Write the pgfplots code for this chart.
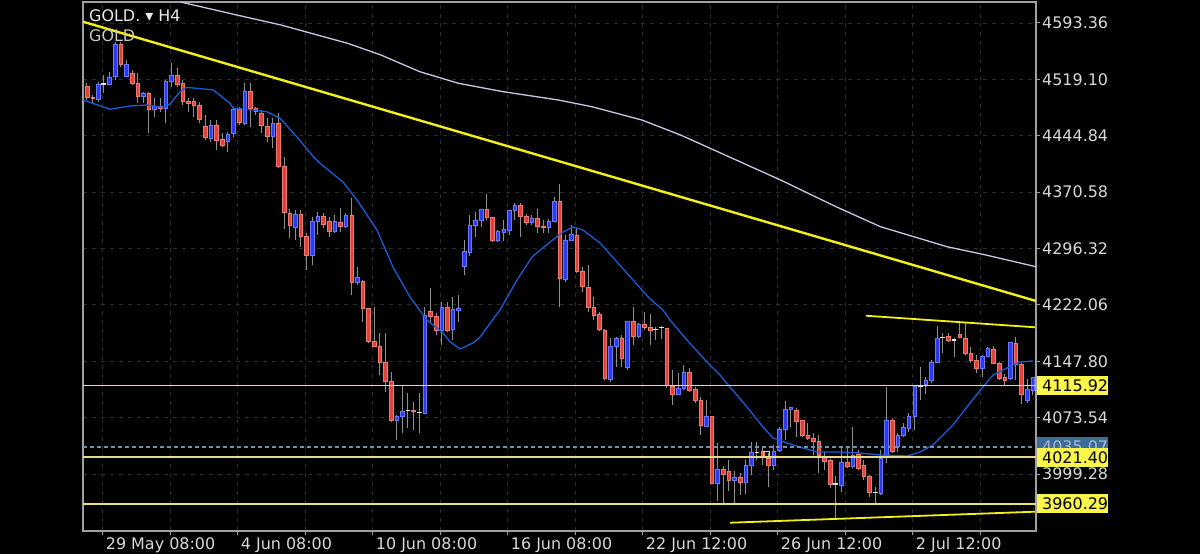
\documentclass[border=0pt]{standalone}
\usepackage{pgfplots}
\pgfplotsset{compat=1.18}
\usepackage{pgfplotstable}
\usepackage{fontspec}
\setmainfont{DejaVu Sans}
\newcommand\lbl{\fontsize{16}{18}\selectfont}

\definecolor{bullblue}{HTML}{2B39F5}
\definecolor{bulledge}{HTML}{6A78FF}
\definecolor{bearred}{HTML}{E0413A}
\definecolor{bearedge}{HTML}{F07A70}
\definecolor{wickgray}{HTML}{8F8F8F}
\definecolor{dojiwhite}{HTML}{E0E0E0}
\definecolor{bluema}{HTML}{1C5BD6}
\definecolor{lavender}{HTML}{C9C6E6}
\definecolor{trendyellow}{HTML}{F2EF1A}
\definecolor{paleyellow}{HTML}{E2DC8C}
\definecolor{lowyellow}{HTML}{E8E272}
\definecolor{boxyellow}{HTML}{F9F54A}
\definecolor{axisgray}{HTML}{A0A0A0}
\definecolor{gridgray}{HTML}{2C2C2C}
\definecolor{labelgray}{HTML}{D9D9D9}
\definecolor{bluebox}{HTML}{3B6D9C}
\definecolor{bluedash}{HTML}{6E8FB0}

\pgfplotsset{
 wick/.style={forget plot, draw=wickgray, line width=1bp, mark=none},
 body0/.style={forget plot, draw=dojiwhite, line width=1.2bp, mark=none},
 body1/.style={forget plot, fill=bullblue, draw=bulledge, line width=0.6bp, mark=none},
 body2/.style={forget plot, fill=bearred, draw=bearedge, line width=0.6bp, mark=none},
}

\pgfplotstableread{
i o h l c
0 4509.4 4514.7 4491.9 4495.5
1 4495.9 4498.5 4488.0 4493.9
2 4492.8 4516.0 4489.7 4513.0
3 4513.0 4524.9 4501.1 4513.2
4 4513.0 4529.2 4511.7 4521.3
5 4522.6 4568.7 4518.3 4565.7
6 4565.7 4568.7 4535.8 4539.3
7 4523.5 4544.6 4521.8 4539.3
8 4527.1 4531.4 4511.7 4513.9
9 4513.9 4527.1 4487.6 4497.2
10 4497.2 4502.8 4487.6 4500.7
11 4500.7 4502.8 4448.1 4479.7
12 4479.7 4494.6 4469.9 4483.1
13 4484.0 4494.6 4476.5 4480.5
14 4481.0 4518.3 4461.2 4516.0
15 4516.0 4540.3 4509.4 4524.9
16 4524.9 4533.7 4509.4 4513.0
17 4513.9 4518.3 4485.3 4489.7
18 4490.6 4494.2 4476.5 4487.6
19 4489.7 4494.6 4469.9 4485.3
20 4485.3 4489.7 4461.2 4466.9
21 4456.7 4472.1 4439.2 4442.8
22 4441.5 4465.6 4437.0 4459.0
23 4459.0 4465.6 4426.1 4439.2
24 4440.2 4448.5 4430.4 4432.6
25 4437.0 4450.2 4423.8 4447.1
26 4448.1 4483.1 4443.6 4480.1
27 4480.1 4483.1 4459.0 4462.0
28 4461.2 4513.9 4459.0 4502.8
29 4502.8 4513.9 4456.7 4481.0
30 4481.0 4483.1 4472.1 4476.5
31 4474.4 4478.7 4448.1 4459.0
32 4457.7 4467.8 4437.0 4443.6
33 4443.6 4467.8 4428.3 4461.2
34 4461.2 4474.4 4402.4 4404.1
35 4404.1 4417.2 4322.0 4344.4
36 4343.1 4348.4 4310.2 4327.3
37 4323.7 4347.0 4307.5 4341.4
38 4341.4 4347.0 4298.7 4311.9
39 4311.9 4316.4 4268.0 4287.8
40 4287.8 4338.2 4274.6 4331.6
41 4331.6 4344.8 4314.1 4339.2
42 4339.2 4342.7 4322.9 4328.6
43 4331.6 4338.2 4311.9 4318.5
44 4318.5 4340.5 4317.0 4331.6
45 4330.3 4349.3 4318.5 4326.0
46 4325.1 4342.7 4322.9 4340.5
47 4340.5 4362.5 4235.1 4251.3
48 4251.3 4272.4 4248.3 4257.9
49 4252.6 4254.9 4199.9 4217.6
50 4217.6 4218.5 4171.5 4173.6
51 4173.6 4219.7 4167.0 4167.9
52 4167.9 4184.6 4129.7 4146.0
53 4146.0 4184.6 4107.7 4120.9
54 4120.9 4134.1 4068.2 4070.5
55 4070.5 4077.1 4044.1 4074.8
56 4075.7 4116.6 4052.9 4081.4
57 4082.7 4105.6 4059.5 4082.9
58 4083.6 4094.6 4057.3 4081.4
59 4080.1 4105.6 4052.9 4080.3
60 4079.3 4218.9 4078.4 4208.8
61 4213.1 4243.9 4199.9 4207.4
62 4207.4 4211.0 4182.4 4189.0
63 4189.0 4226.3 4169.2 4218.9
64 4218.9 4226.3 4186.7 4189.0
65 4189.9 4232.9 4175.8 4216.3
66 4214.4 4235.1 4199.9 4217.6
67 4272.4 4307.5 4261.4 4292.1
68 4291.7 4340.5 4286.5 4327.3
69 4327.3 4344.8 4311.9 4332.9
70 4332.9 4348.5 4324.2 4348.0
71 4348.0 4368.1 4333.9 4337.4
72 4337.4 4338.2 4305.3 4307.5
73 4306.6 4320.7 4305.3 4318.5
74 4318.1 4333.9 4306.6 4321.6
75 4320.7 4347.0 4314.1 4346.1
76 4346.1 4355.9 4333.9 4353.6
77 4353.6 4355.9 4311.9 4339.2
78 4339.2 4341.8 4327.3 4330.3
79 4330.9 4340.5 4327.3 4336.1
80 4336.1 4348.0 4316.4 4326.0
81 4326.0 4333.9 4316.4 4324.2
82 4324.2 4334.8 4316.4 4332.5
83 4332.5 4364.6 4331.6 4358.0
84 4358.0 4381.3 4219.7 4257.1
85 4255.8 4314.1 4252.6 4307.5
86 4307.5 4327.3 4306.6 4315.0
87 4314.1 4322.9 4263.7 4265.8
88 4265.8 4272.4 4239.4 4246.0
89 4245.2 4274.6 4213.1 4218.9
90 4218.9 4232.9 4202.2 4207.8
91 4209.7 4213.1 4188.1 4189.9
92 4189.0 4189.9 4123.2 4125.4
93 4124.1 4178.1 4120.9 4167.0
94 4167.9 4180.2 4140.7 4178.1
95 4178.1 4182.4 4140.7 4151.7
96 4139.9 4200.5 4136.3 4199.9
97 4199.9 4219.7 4169.2 4181.1
98 4181.1 4198.2 4178.1 4196.9
99 4196.9 4213.1 4189.0 4192.6
100 4192.0 4210.1 4169.2 4189.0
101 4189.9 4193.4 4175.8 4189.7
102 4192.0 4194.3 4176.7 4192.2
103 4191.2 4192.0 4112.6 4116.6
104 4115.2 4136.3 4090.2 4104.7
105 4104.7 4132.0 4103.4 4112.2
106 4112.2 4142.9 4110.0 4132.8
107 4132.8 4138.6 4107.7 4109.1
108 4110.9 4114.3 4093.3 4096.8
109 4096.8 4101.2 4050.7 4063.9
110 4062.6 4096.8 4061.6 4074.8
111 4074.8 4075.7 3986.5 3987.1
112 3987.1 4040.6 3964.2 4005.6
113 4005.6 4009.9 3959.9 3999.4
114 4003.3 4017.8 3977.4 3990.5
115 3990.5 4003.7 3961.6 3995.0
116 3995.0 4001.1 3971.7 3987.9
117 3987.9 4017.8 3973.0 4011.2
118 4011.2 4041.9 3998.0 4027.9
119 4027.4 4041.9 4017.8 4027.6
120 4028.7 4035.3 4011.2 4022.1
121 4020.0 4026.6 3982.6 4010.3
122 4010.3 4037.6 4004.6 4028.7
123 4030.0 4061.6 4028.7 4058.2
124 4058.2 4095.9 4044.1 4084.6
125 4084.6 4088.0 4061.6 4087.2
126 4082.7 4085.9 4048.5 4068.2
127 4069.6 4070.5 4048.1 4050.7
128 4050.7 4066.9 4044.1 4046.4
129 4046.4 4052.9 4024.4 4041.9
130 4041.9 4050.7 4000.3 4024.4
131 4023.1 4028.7 4004.6 4015.6
132 4017.8 4018.7 3980.5 3986.2
133 3986.2 3996.7 3941.0 3986.4
134 3984.9 4035.3 3976.0 4014.2
135 4014.2 4035.3 4006.9 4009.0
136 4009.0 4061.6 4006.9 4024.4
137 4025.3 4031.0 4004.6 4006.9
138 4010.3 4017.8 3991.4 3995.8
139 3995.8 3998.0 3969.5 3974.7
140 3974.7 3982.6 3960.8 3974.9
141 3973.9 4031.0 3971.7 4020.0
142 4024.4 4114.3 4013.4 4070.5
143 4070.5 4072.7 4026.6 4028.7
144 4035.3 4052.9 4028.7 4050.7
145 4050.7 4066.1 4048.5 4060.3
146 4059.5 4079.3 4055.1 4074.8
147 4074.8 4116.6 4057.3 4114.3
148 4114.3 4140.7 4096.8 4114.5
149 4117.9 4127.5 4104.7 4123.2
150 4123.2 4149.5 4119.6 4146.0
151 4146.0 4194.3 4145.1 4178.1
152 4178.9 4185.5 4159.1 4179.0
153 4180.2 4185.5 4173.6 4175.8
154 4175.9 4178.1 4153.8 4175.8
155 4183.3 4198.6 4178.1 4179.4
156 4178.1 4199.9 4156.1 4158.3
157 4158.3 4167.0 4145.1 4149.5
158 4149.5 4156.1 4132.0 4138.6
159 4138.6 4156.1 4127.5 4153.8
160 4153.8 4167.0 4153.0 4164.9
161 4163.6 4167.9 4144.2 4145.1
162 4145.1 4147.3 4123.2 4125.4
163 4126.7 4131.0 4116.6 4123.2
164 4125.4 4173.6 4123.2 4172.3
165 4171.5 4180.2 4123.2 4144.2
166 4144.2 4145.1 4091.6 4104.7
167 4096.8 4124.1 4092.5 4110.9
168 4110.0 4127.5 4103.4 4126.7
}\candles

\pgfplotstableread{
x y
-0.66 4491.9
4.09 4479.7
7.64 4484.0
10.60 4485.3
13.55 4482.3
14.74 4486.6
16.52 4502.8
17.71 4508.6
19.48 4507.3
22.43 4505.1
25.40 4487.6
25.99 4481.0
28.37 4479.7
31.92 4476.5
34.28 4467.8
37.25 4443.6
40.20 4417.2
41.39 4408.5
45.47 4383.9
47.96 4360.2
51.51 4320.7
54.35 4272.0
57.37 4232.5
60.39 4202.1
63.23 4185.0
64.48 4173.6
66.25 4164.0
68.56 4171.9
69.80 4179.8
73.36 4215.4
76.38 4254.9
79.04 4285.1
82.24 4304.9
84.55 4318.1
86.32 4324.7
88.10 4320.7
91.12 4303.6
94.14 4278.6
96.98 4254.9
100.00 4229.9
102.31 4215.3
103.55 4202.2
106.57 4175.8
110.12 4146.9
112.43 4129.7
114.21 4113.9
117.23 4087.6
120.07 4061.3
121.85 4046.8
124.33 4040.2
127.18 4033.6
129.66 4028.3
133.75 4028.3
137.30 4027.0
140.85 4024.4
145.65 4023.1
147.96 4028.3
150.27 4037.6
153.82 4063.9
156.84 4092.9
159.15 4113.9
160.92 4129.7
163.41 4139.0
165.72 4146.9
168.03 4148.2
}\fastma

\pgfplotstableread{
x y
16.60 4621.0
26.57 4603.9
34.46 4590.7
46.29 4566.6
52.20 4551.2
59.11 4529.2
66.00 4513.9
73.89 4502.9
83.75 4491.9
89.66 4483.1
98.54 4465.6
105.43 4445.8
113.32 4419.5
123.18 4386.6
133.04 4351.4
140.92 4325.1
152.75 4298.7
159.66 4287.8
168.53 4272.4
}\slowma

\pgfplotstablegetrowsof{\candles}
\pgfmathtruncatemacro{\lastrow}{\pgfplotsretval-1}

\begin{document}
\begin{tikzpicture}
\fill[black] (0bp,0bp) rectangle (1200bp,554bp);
\begin{axis}[
  at={(83bp,23bp)}, anchor=south west,
  width=953bp, height=529bp, scale only axis,
  xmin=-0.71, xmax=168.56, ymin=3924.3, ymax=4621.0,
  clip mode=individual,
  axis line style={draw=axisgray, line width=1.2bp},
  ytick={3999.28,4073.54,4147.80,4222.06,4296.32,4370.58,4444.84,4519.10,4593.36},
  yticklabels={3999.28,4073.54,4147.80,4222.06,4296.32,4370.58,4444.84,4519.10,4593.36},
  ytick pos=right, yticklabel pos=right,
  xtick={2.79,14.78,26.77,38.76,50.75,62.74,74.73,86.72,98.71,110.70,122.69,134.68,146.67,158.66},
  xticklabels={29 May 08:00,,4 Jun 08:00,,10 Jun 08:00,,16 Jun 08:00,,22 Jun 12:00,,26 Jun 12:00,,2 Jul 12:00,},
  xtick pos=bottom,
  tick align=outside, major tick length=4bp,
  tick style={draw=axisgray, line width=1bp},
  grid=major, grid style={dash pattern=on 4bp off 5bp, draw=gridgray, line width=0.9bp},
  yticklabel style={anchor=west, font=\lbl, text=labelgray, inner sep=0pt, xshift=2bp},
  xticklabel style={anchor=north west, font=\lbl, text=labelgray, inner sep=0pt, xshift=3bp, yshift=-2bp},
]
\pgfplotsforeachungrouped \k in {0,...,\lastrow}{%
  \pgfplotstablegetelem{\k}{i}\of\candles\let\ci\pgfplotsretval
  \pgfplotstablegetelem{\k}{o}\of\candles\let\co\pgfplotsretval
  \pgfplotstablegetelem{\k}{h}\of\candles\let\ch\pgfplotsretval
  \pgfplotstablegetelem{\k}{l}\of\candles\let\cl\pgfplotsretval
  \pgfplotstablegetelem{\k}{c}\of\candles\let\cc\pgfplotsretval
  \pgfmathsetmacro{\xa}{\ci-0.32}%
  \pgfmathsetmacro{\xb}{\ci+0.32}%
  \pgfmathtruncatemacro{\kind}{abs(\cc-\co)<0.6 ? 0 : (\cc>\co ? 1 : 2)}%
  \edef\plotcmds{%
    \noexpand\addplot[wick] coordinates {(\ci,\cl) (\ci,\ch)};
    \noexpand\addplot[body\kind] coordinates {(\xa,\co) (\xb,\co) (\xb,\cc) (\xa,\cc)} -- cycle;
  }%
  \plotcmds
}
% moving averages
\addplot[draw=lavender, line width=1.3bp, line join=round, mark=none] table[x=x,y=y]{\slowma};
\addplot[draw=bluema, line width=1.3bp, line join=round, mark=none] table[x=x,y=y]{\fastma};
% horizontal levels
\addplot[draw=bluedash, line width=1.6bp, dash pattern=on 4bp off 3bp, mark=none] coordinates {(-0.71,4035.07) (168.56,4035.07)};
\addplot[draw=paleyellow, line width=1.8bp, mark=none] coordinates {(-0.71,4115.92) (168.56,4115.92)};
\addplot[draw=paleyellow, line width=1.8bp, mark=none] coordinates {(-0.71,4021.40) (168.56,4021.40)};
\addplot[draw=lowyellow, line width=1.8bp, mark=none] coordinates {(-0.71,3960.29) (168.56,3960.29)};
% trend lines
\addplot[draw=trendyellow, line width=2.4bp, mark=none] coordinates {(-0.71,4595.0) (168.56,4227.2)};
\addplot[draw=trendyellow, line width=1.8bp, mark=none] coordinates {(138.37,4207.8) (168.38,4192.6)};
\addplot[draw=trendyellow, line width=1.8bp, mark=none] coordinates {(114.21,3935.2) (168.38,3949.7)};
\addplot[only marks, mark=square, mark size=3bp, mark options={draw=trendyellow, fill=none, line width=1.2bp}] coordinates {(120.73,4025.3)};
% price boxes
\node[anchor=west, fill=bluebox, text=labelgray!70!bluebox, font=\lbl, inner xsep=5bp, inner ysep=0pt, minimum height=19bp, text width=61bp, align=left, xshift=1bp] at (axis cs:168.56,4035.07) {4035.07};
\node[anchor=west, fill=boxyellow, text=black, font=\lbl, inner xsep=5bp, inner ysep=0pt, minimum height=19bp, text width=61bp, align=left, xshift=1bp] at (axis cs:168.56,4115.92) {4115.92};
\node[anchor=west, fill=boxyellow, text=black, font=\lbl, inner xsep=5bp, inner ysep=0pt, minimum height=19bp, text width=61bp, align=left, xshift=1bp] at (axis cs:168.56,4021.40) {4021.40};
\node[anchor=west, fill=boxyellow, text=black, font=\lbl, inner xsep=5bp, inner ysep=0pt, minimum height=19bp, text width=61bp, align=left, xshift=1bp] at (axis cs:168.56,3960.29) {3960.29};
\end{axis}
\node[anchor=base west, inner sep=0pt, text=white!92!black, font=\lbl] at (89bp,532.3bp) {GOLD. ▾ H4};
\node[anchor=base west, inner sep=0pt, text=white!78!black, font=\lbl] at (89bp,512.3bp) {GOLD};
\end{tikzpicture}
\end{document}
